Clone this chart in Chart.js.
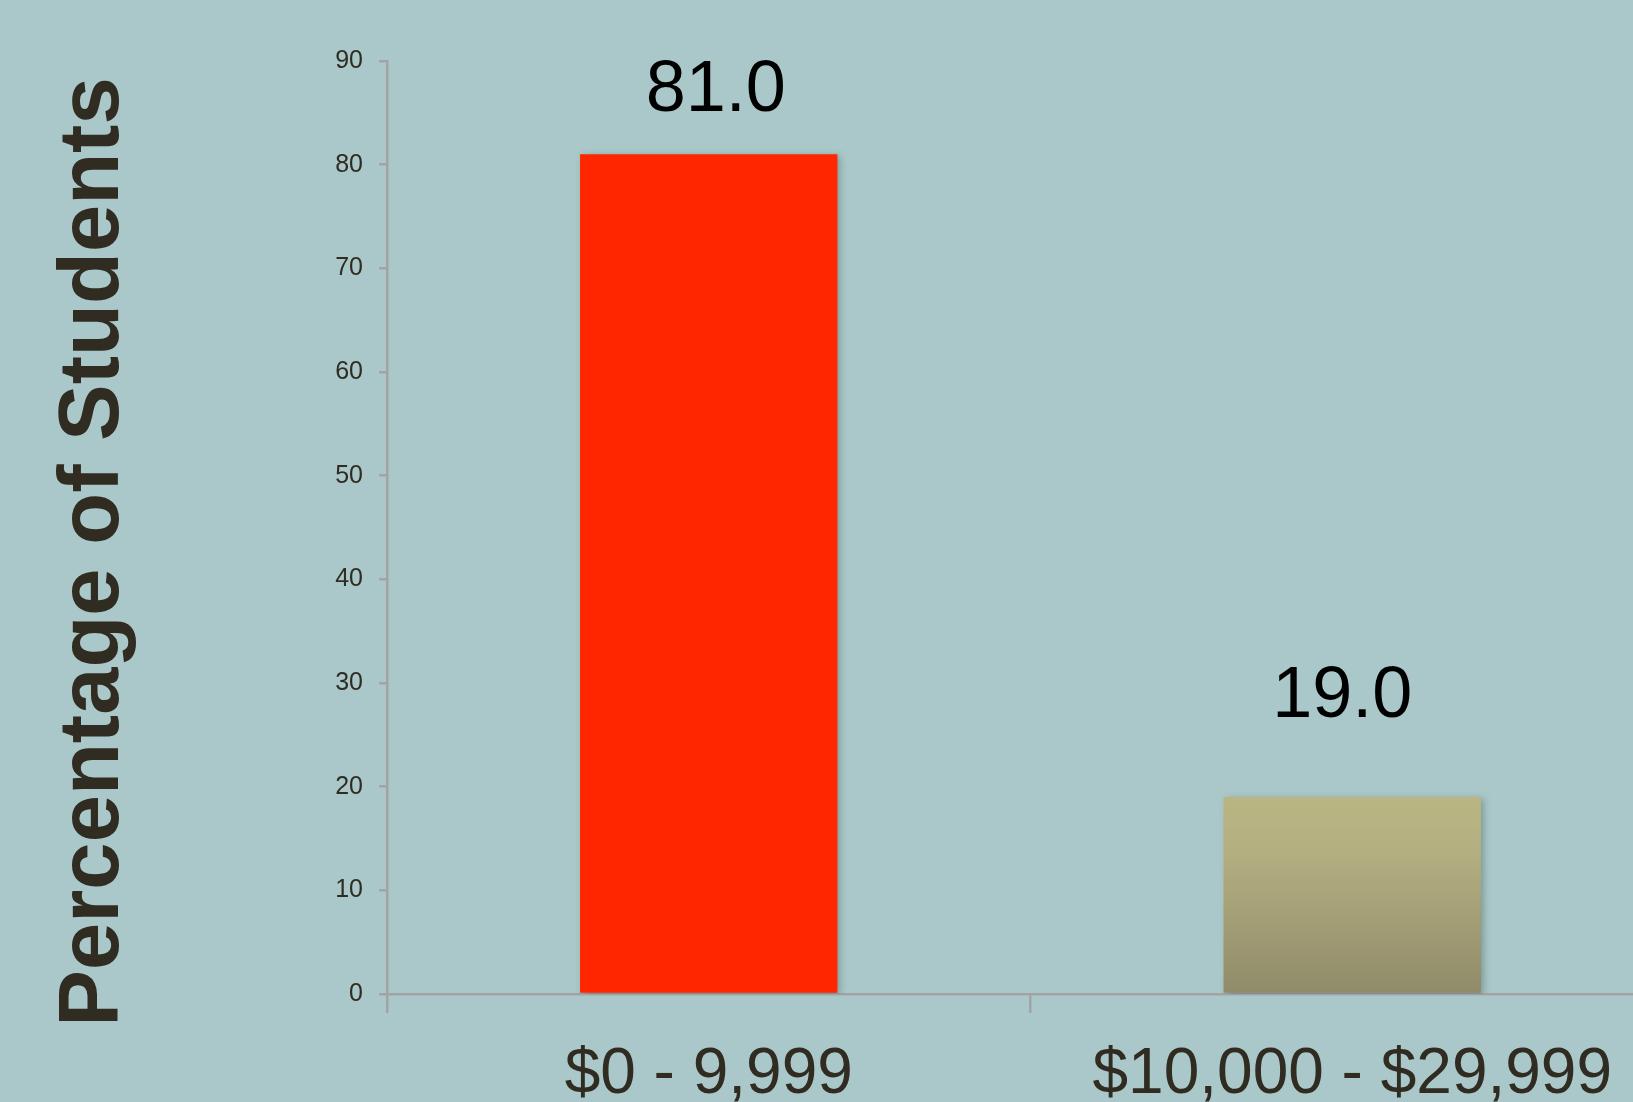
<!DOCTYPE html>
<html>
<head>
<meta charset="utf-8">
<script src="https://cdn.jsdelivr.net/npm/chart.js@4/dist/chart.umd.min.js"></script>
<style>
  html, body { margin: 0; padding: 0; overflow: hidden; background: #aac8c9; }
  #wrap { width: 1633px; height: 1102px; overflow: hidden; }
  canvas { display: block; }
</style>
</head>
<body>
<div id="wrap"><canvas id="income-chart" width="1674" height="1102"></canvas></div>
<script>
const categories = ['$0 - 9,999', '$10,000 - $29,999'];
const percentages = [81.0, 19.0];
const yMax = 90;
const yStep = 10;

const axisTitle = 'Percentage of Students';
const textColor = '#302c22';
const axisColor = '#a3a3a3';

// nudges for the value labels above each bar (x shift, lift above bar top)
const labelShift = [7, -10];
const labelLift = [43, 80];

function barFill(context) {
    const chart = context.chart;
    if (context.dataIndex === 0) return '#ff2600';
    if (!chart.chartArea) return '#a8a47a';
    const yScale = chart.scales.y;
    const top = yScale.getPixelForValue(percentages[context.dataIndex]);
    const bottom = yScale.getPixelForValue(0);
    const grad = chart.ctx.createLinearGradient(0, top, 0, bottom);
    grad.addColorStop(0, '#bab683');
    grad.addColorStop(0.3, '#b3ae80');
    grad.addColorStop(1, '#8f8b69');
    return grad;
}

const barShadow = {
    id: 'barShadow',
    beforeDatasetsDraw(chart) {
        const ctx = chart.ctx;
        ctx.save();
        ctx.shadowColor = 'rgba(40, 60, 60, 0.35)';
        ctx.shadowBlur = 7;
        ctx.shadowOffsetX = 3;
        ctx.shadowOffsetY = 2;
    },
    afterDatasetsDraw(chart) {
        chart.ctx.restore();
    }
};

const valueLabels = {
    id: 'valueLabels',
    afterDraw(chart) {
        const ctx = chart.ctx;
        const meta = chart.getDatasetMeta(0);
        ctx.save();
        ctx.font = '72px "Liberation Sans", Arial, sans-serif';
        ctx.fillStyle = '#000000';
        ctx.textAlign = 'center';
        ctx.textBaseline = 'alphabetic';
        meta.data.forEach((bar, i) => {
            ctx.fillText(percentages[i].toFixed(1), bar.x + labelShift[i], bar.y - labelLift[i]);
        });
        ctx.restore();
    }
};

const sideTitle = {
    id: 'sideTitle',
    afterDraw(chart) {
        const ctx = chart.ctx;
        ctx.save();
        ctx.translate(118, 552);
        ctx.rotate(-Math.PI / 2);
        ctx.font = 'bold 85px "Liberation Sans", Arial, sans-serif';
        ctx.fillStyle = textColor;
        ctx.textAlign = 'center';
        ctx.textBaseline = 'alphabetic';
        ctx.fillText(axisTitle, 0, 0);
        ctx.restore();
    }
};

const ctx = document.getElementById('income-chart').getContext('2d');
const incomeChart = new Chart(ctx, {
    type: 'bar',
    data: {
        labels: categories,
        datasets: [{
            label: axisTitle,
            data: percentages,
            backgroundColor: barFill,
            borderWidth: 0,
            barPercentage: 0.4,
            categoryPercentage: 1.0
        }]
    },
    options: {
        responsive: false,
        animation: false,
        layout: {
            padding: { left: 0, right: 0, top: 61, bottom: 0 }
        },
        plugins: {
            legend: { display: false },
            tooltip: { enabled: false }
        },
        scales: {
            x: {
                afterFit: scale => { scale.height = 108; },
                grid: {
                    offset: true,
                    drawOnChartArea: false,
                    drawTicks: true,
                    tickLength: 19,
                    color: axisColor,
                    lineWidth: 2.5
                },
                border: { color: axisColor, width: 2.5 },
                ticks: {
                    color: textColor,
                    padding: 24,
                    maxRotation: 0,
                    autoSkip: false,
                    font: { family: '"Liberation Sans", Arial, sans-serif', size: 64 }
                }
            },
            y: {
                min: 0,
                max: yMax,
                afterFit: scale => { scale.width = 387; },
                grid: {
                    drawOnChartArea: false,
                    drawTicks: true,
                    tickLength: 8,
                    color: axisColor,
                    lineWidth: 2.5
                },
                border: { color: axisColor, width: 2.5 },
                ticks: {
                    stepSize: yStep,
                    color: textColor,
                    padding: 16,
                    font: { family: '"Liberation Sans", Arial, sans-serif', size: 25 }
                }
            }
        }
    },
    plugins: [barShadow, valueLabels, sideTitle]
});
</script>
</body>
</html>
